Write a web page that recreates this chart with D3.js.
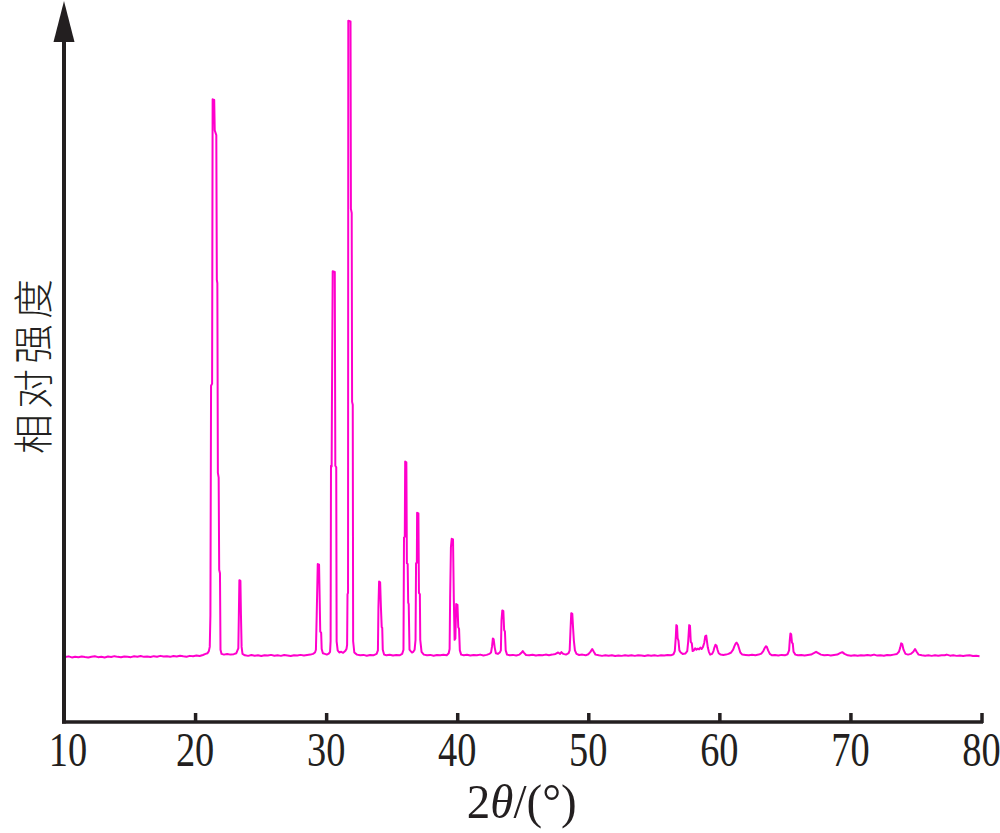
<!DOCTYPE html>
<html>
<head>
<meta charset="utf-8">
<script src="https://cdn.jsdelivr.net/npm/d3@7"></script>
<style>
  html, body { margin: 0; padding: 0; background: #fff; }
  svg { display: block; }
</style>
</head>
<body>
<svg id="chart" width="1000" height="833"></svg>
<script>
// ---- data ----
const xTicks = [10, 20, 30, 40, 50, 60, 70, 80];
const xTickLabels = ["10", "20", "30", "40", "50", "60", "70", "80"];
const xTitle = ["2", "θ", "/(°)"];
const yTitle = "相对强度";

// [2θ (°), relative intensity]
const pattern = [
  [10.10, 9.26],[10.35, 9.35],[10.6, 9.2],[10.85, 9.3],[11.1, 9.22],[11.35, 9.34],[11.6, 9.25],[11.85, 9.18],
  [12.1, 9.3],[12.35, 9.36],[12.6, 9.24],[12.85, 9.3],[13.1, 9.2],[13.35, 9.32],[13.6, 9.26],[13.85, 9.38],
  [14.1, 9.28],[14.35, 9.22],[14.6, 9.34],[14.85, 9.3],[15.1, 9.24],[15.35, 9.36],[15.6, 9.3],[15.85, 9.4],
  [16.1, 9.28],[16.35, 9.34],[16.6, 9.26],[16.85, 9.38],[17.1, 9.3],[17.35, 9.42],[17.6, 9.32],[17.85, 9.36],
  [18.1, 9.28],[18.35, 9.4],[18.6, 9.34],[18.85, 9.44],[19.1, 9.36],[19.35, 9.3],[19.6, 9.42],[19.85, 9.38],
  [20.1, 9.46],[20.35, 9.4],[20.6, 9.55],[20.8, 9.7],[20.95, 9.8],[21.05, 10.1],[21.12, 10.7],
  [21.17, 15.2],[21.22, 47.9],[21.30, 48.2],[21.34, 88.7],[21.46, 88.6],[21.50, 84.3],[21.62, 83.6],
  [21.66, 63.0],[21.70, 62.5],[21.74, 35.5],[21.80, 34.8],[21.84, 21.7],[21.90, 21.2],[21.94, 10.3],[22.02, 9.7],
  [22.2, 9.6],[22.45, 9.7],[22.7, 9.6],[22.95, 9.66],[23.15, 9.8],[23.25, 10.26],
  [23.30, 10.5],[23.34, 15.2],[23.38, 20.2],[23.46, 20.1],[23.50, 15.3],[23.55, 10.7],[23.62, 9.7],
  [23.8, 9.5],[24.05, 9.42],[24.3, 9.55],[24.55, 9.45],[24.8, 9.5],[25.05, 9.4],[25.3, 9.52],[25.55, 9.46],
  [25.8, 9.56],[26.05, 9.44],[26.3, 9.5],[26.55, 9.42],[26.8, 9.55],[27.05, 9.48],[27.3, 9.4],[27.55, 9.52],
  [27.8, 9.46],[28.05, 9.56],[28.3, 9.48],[28.55, 9.55],[28.8, 9.6],[29.0, 9.7],[29.15, 9.9],
  [29.22, 10.3],[29.28, 15.2],[29.36, 22.5],[29.46, 22.4],[29.55, 12.9],[29.62, 12.7],[29.66, 10.4],[29.75, 9.8],
  [29.9, 9.7],[30.05, 9.6],[30.2, 9.75],[30.3, 10.0],
  [30.34, 11.5],[30.37, 36.5],[30.42, 36.4],[30.44, 44.4],[30.50, 64.2],[30.66, 64.1],[30.70, 36.5],[30.77, 36.3],
  [30.80, 11.5],[30.88, 10.2],
  [31.0, 9.9],[31.15, 10.0],[31.3, 9.85],[31.45, 10.1],[31.55, 10.4],
  [31.60, 11.0],[31.63, 18.2],[31.67, 18.4],[31.69, 99.9],[31.86, 99.8],[31.89, 73.1],[31.95, 72.5],
  [31.98, 45.6],[32.03, 45.2],[32.06, 11.5],[32.15, 9.9],
  [32.35, 9.6],[32.6, 9.5],[32.85, 9.56],[33.1, 9.45],[33.35, 9.55],[33.6, 9.5],[33.85, 9.7],
  [33.95, 10.2],[33.99, 16.4],[34.04, 20.0],[34.12, 19.9],[34.18, 16.3],[34.24, 13.5],[34.28, 13.4],[34.32, 10.3],[34.42, 9.6],
  [34.6, 9.5],[34.85, 9.58],[35.1, 9.46],[35.35, 9.55],[35.6, 9.5],[35.8, 9.7],
  [35.90, 10.3],[35.94, 26.3],[36.00, 26.4],[36.03, 37.1],[36.12, 37.0],[36.16, 22.6],[36.22, 22.5],
  [36.26, 17.0],[36.30, 16.8],[36.36, 10.3],
  [36.45, 10.1],[36.55, 9.9],[36.65, 10.0],[36.75, 10.3],
  [36.82, 11.7],[36.86, 22.6],[36.92, 22.7],[36.94, 29.8],[37.04, 29.7],[37.08, 18.4],[37.15, 18.2],[37.18, 11.7],[37.28, 10.0],
  [37.45, 9.6],[37.7, 9.5],[37.95, 9.56],[38.2, 9.45],[38.45, 9.55],[38.7, 9.5],[38.95, 9.58],[39.2, 9.52],
  [39.35, 9.8],[39.42, 10.4],[39.46, 17.7],[39.52, 24.9],[39.58, 26.1],[39.68, 26.0],[39.74, 17.6],[39.80, 11.7],
  [39.86, 11.9],[39.92, 16.8],[40.02, 16.7],[40.08, 13.5],[40.14, 13.3],[40.20, 10.2],[40.3, 9.6],
  [40.5, 9.5],[40.75, 9.58],[41.0, 9.46],[41.25, 9.55],[41.5, 9.5],[41.75, 9.6],[42.0, 9.48],[42.25, 9.56],[42.45, 9.7],
  [42.58, 9.9],[42.66, 10.8],[42.72, 11.9],[42.78, 11.8],[42.86, 10.6],[42.95, 9.8],[43.1, 9.7],[43.25, 9.9],
  [43.33, 10.2],[43.38, 14.5],[43.44, 15.9],[43.52, 15.8],[43.58, 13.1],[43.64, 12.9],[43.70, 10.2],[43.8, 9.6],
  [44.0, 9.5],[44.25, 9.56],[44.5, 9.48],[44.75, 9.6],[44.9, 9.85],[45.0, 10.1],[45.1, 9.85],[45.25, 9.55],
  [45.5, 9.5],[45.75, 9.58],[46.0, 9.46],[46.25, 9.55],[46.5, 9.5],[46.75, 9.6],[47.0, 9.52],[47.25, 9.6],
  [47.5, 9.7],[47.7, 9.9],[47.85, 9.7],[47.95, 9.95],[48.1, 9.7],[48.3, 9.6],[48.5, 9.8],
  [48.58, 10.2],[48.64, 13.0],[48.70, 15.5],[48.78, 15.4],[48.84, 13.4],[48.90, 11.6],[48.98, 10.2],[49.1, 9.7],
  [49.3, 9.55],[49.55, 9.6],[49.8, 9.5],[50.0, 9.65],[50.15, 9.95],[50.3, 10.4],[50.42, 10.0],[50.55, 9.6],
  [50.8, 9.5],[51.05, 9.42],[51.3, 9.5],[51.55, 9.44],[51.8, 9.52],[52.05, 9.4],[52.3, 9.48],[52.55, 9.42],
  [52.8, 9.5],[53.05, 9.44],[53.3, 9.52],[53.55, 9.42],[53.8, 9.5],[54.05, 9.46],[54.3, 9.4],[54.55, 9.5],
  [54.8, 9.44],[55.05, 9.52],[55.3, 9.42],[55.55, 9.5],[55.8, 9.46],[56.05, 9.54],[56.3, 9.5],[56.5, 9.65],
  [56.6, 10.1],[56.68, 12.2],[56.72, 13.8],[56.77, 13.7],[56.82, 11.9],[56.88, 11.6],[56.95, 10.2],[57.05, 9.9],
  [57.2, 9.7],[57.4, 9.75],[57.55, 10.1],
  [57.62, 11.4],[57.70, 13.8],[57.76, 13.7],[57.82, 11.4],[57.90, 11.2],[57.96, 10.1],
  [58.05, 10.2],[58.15, 10.5],[58.25, 10.3],[58.35, 10.45],[58.45, 10.35],[58.55, 10.6],[58.65, 10.4],[58.75, 10.7],
  [58.85, 11.3],[58.92, 12.2],[59.0, 12.3],[59.06, 11.4],[59.12, 10.6],[59.2, 10.0],[59.3, 9.6],[59.45, 9.7],[59.55, 10.1],
  [59.62, 10.6],[59.70, 11.0],[59.78, 10.9],[59.86, 10.3],[59.95, 9.8],[60.1, 9.6],[60.3, 9.55],[60.5, 9.6],
  [60.7, 9.7],[60.9, 9.9],[61.05, 10.3],
  [61.15, 10.8],[61.25, 11.2],[61.32, 11.3],[61.42, 11.0],[61.5, 10.5],[61.6, 9.9],[61.75, 9.6],[62.0, 9.55],
  [62.25, 9.5],[62.5, 9.58],[62.75, 9.52],[63.0, 9.6],[63.2, 9.75],[63.35, 10.1],
  [63.45, 10.5],[63.55, 10.8],[63.62, 10.7],[63.72, 10.2],[63.85, 9.7],[64.0, 9.5],[64.25, 9.55],[64.5, 9.48],
  [64.75, 9.56],[65.0, 9.5],[65.2, 9.65],[65.32, 10.2],
  [65.37, 11.6],[65.42, 12.6],[65.48, 12.5],[65.54, 11.3],[65.6, 11.2],[65.66, 10.0],[65.8, 9.6],[66.0, 9.5],
  [66.25, 9.55],[66.5, 9.48],[66.75, 9.55],[67.0, 9.6],[67.2, 9.8],[67.38, 10.0],[67.55, 9.8],[67.75, 9.6],
  [68.0, 9.5],[68.25, 9.56],[68.5, 9.46],[68.75, 9.55],[69.0, 9.6],[69.2, 9.8],[69.38, 9.95],[69.55, 9.7],
  [69.8, 9.5],[70.05, 9.45],[70.3, 9.52],[70.55, 9.44],[70.8, 9.5],[71.05, 9.46],[71.3, 9.55],[71.55, 9.48],
  [71.8, 9.6],[72.05, 9.46],[72.3, 9.52],[72.55, 9.44],[72.8, 9.55],[73.05, 9.5],[73.3, 9.6],[73.55, 9.7],[73.7, 10.0],
  [73.8, 10.6],[73.87, 11.2],[73.95, 11.1],[74.05, 10.3],[74.2, 9.7],[74.4, 9.6],[74.6, 9.7],[74.8, 10.0],
  [74.93, 10.4],[75.05, 10.0],[75.2, 9.6],[75.45, 9.5],[75.7, 9.45],[75.95, 9.5],[76.2, 9.42],[76.45, 9.5],
  [76.7, 9.44],[76.95, 9.52],[77.2, 9.5],[77.35, 9.6],[77.6, 9.45],[77.85, 9.5],[78.1, 9.42],[78.35, 9.48],
  [78.6, 9.4],[78.85, 9.46],[79.1, 9.5],[79.35, 9.4],[79.6, 9.44],[79.85, 9.38]
];

// ---- layout ----
const svg = d3.select("#chart");
const axisColor = "#231f20";
const lineColor = "#ff00cc";
const serif = "'Liberation Serif', 'DejaVu Serif', serif";

const x = d3.scaleLinear().domain([10, 80]).range([64, 981.5]);
const y = d3.scaleLinear().domain([0, 100]).range([722, 20]);

// pattern line
const line = d3.line().x(d => x(d[0])).y(d => y(d[1]));
svg.append("path")
  .datum(pattern)
  .attr("d", line)
  .attr("fill", "none")
  .attr("stroke", lineColor)
  .attr("stroke-width", 2)
  .attr("stroke-linejoin", "round");

// x axis
const xAxis = d3.axisBottom(x)
  .tickValues(xTicks.slice(1))
  .tickSize(-9)
  .tickSizeOuter(0)
  .tickFormat("");
const gx = svg.append("g").attr("transform", `translate(0,722)`).call(xAxis);
gx.select(".domain").attr("stroke", axisColor).attr("stroke-width", 3.5)
  .attr("d", `M${x(10) - 2},0H${x(80) + 1.5}`);
gx.selectAll(".tick line").attr("stroke", axisColor).attr("stroke-width", 3.5)
  .attr("y1", 1);

// x tick labels (condensed serif)
xTicks.forEach((t, i) => {
  svg.append("text")
    .attr("transform", `translate(${x(t) + (i === 0 ? 4 : 0)},766) scale(0.8,1)`)
    .attr("text-anchor", "middle")
    .attr("font-family", serif)
    .attr("font-size", 48)
    .attr("fill", axisColor)
    .text(xTickLabels[i]);
});

// x title
const xt = svg.append("text")
  .attr("transform", `translate(${x(45) - 1},818) scale(0.96,1)`)
  .attr("text-anchor", "middle")
  .attr("font-family", serif)
  .attr("font-size", 49)
  .attr("fill", axisColor);
xt.append("tspan").text(xTitle[0]);
xt.append("tspan").attr("font-style", "italic").text(xTitle[1]);
xt.append("tspan").text(xTitle[2]);

// y axis with arrow
svg.append("line")
  .attr("x1", x(10)).attr("x2", x(10))
  .attr("y1", 723.5).attr("y2", 40)
  .attr("stroke", axisColor).attr("stroke-width", 4);
svg.append("path")
  .attr("d", `M${x(10)},1 L${x(10) + 10.5},42 L${x(10) - 10.5},42 Z`)
  .attr("fill", axisColor);

// y title
svg.append("text")
  .attr("transform", `translate(48,364) rotate(-90)`)
  .attr("text-anchor", "middle")
  .attr("font-family", "'Noto Sans CJK SC', sans-serif")
  .attr("font-weight", 300)
  .attr("font-size", 40)
  .attr("letter-spacing", 5)
  .attr("fill", axisColor)
  .text(yTitle);
</script>
</body>
</html>
